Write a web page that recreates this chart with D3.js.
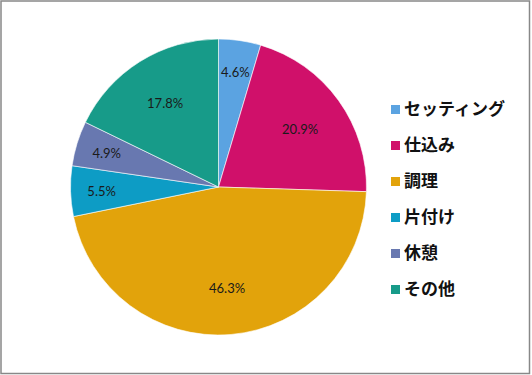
<!DOCTYPE html>
<html><head><meta charset="utf-8">
<script src="https://cdn.jsdelivr.net/npm/d3@7"></script>
<style>html,body{margin:0;padding:0;background:#fff;}svg{display:block;}</style>
</head><body>
<svg id="c" width="532" height="375"></svg>
<script>
const categories = ["セッティング", "仕込み", "調理", "片付け", "休憩", "その他"];
const values = [4.6, 20.9, 46.3, 5.5, 4.9, 17.8];
const colors = ["#5BA3E1", "#D0106A", "#E2A30B", "#0D9CC5", "#6878B0", "#179B89"];

const svg = d3.select("#c");
svg.append("rect").attr("x", 1).attr("y", 1).attr("width", 528.5).attr("height", 372.5)
  .attr("fill", "#fff").attr("stroke", "#888").attr("stroke-width", 1.5);

const cx = 218.5, cy = 187, R = 148;
const data = categories.map((c, i) => ({ cat: c, v: values[i], col: colors[i] }));
const pie = d3.pie().value(d => d.v).sort(null);
const arcs = pie(data);
const arc = d3.arc().innerRadius(0).outerRadius(R);
const g = svg.append("g").attr("transform", `translate(${cx},${cy})`);
g.selectAll("path").data(arcs).join("path")
  .attr("d", arc).attr("fill", d => d.data.col)
  .attr("stroke", "#fff").attr("stroke-width", 0.6);

const labelArcBig = d3.arc().innerRadius(R * 0.68).outerRadius(R * 0.68);
const labelArcSmall = d3.arc().innerRadius(R * 0.79).outerRadius(R * 0.79);
g.selectAll("text").data(arcs).join("text")
  .attr("transform", d => `translate(${(d.data.v < 10 ? labelArcSmall : labelArcBig).centroid(d)})`)
  .attr("text-anchor", "middle").attr("dy", "0.45em")
  .attr("font-family", "Lato, 'Open Sans', sans-serif").attr("font-size", 13)
  .attr("fill", "#1a1a1a")
  .text(d => d.data.v.toFixed(1) + "%");

const leg = svg.append("g").attr("transform", "translate(391,109)");
const items = leg.selectAll("g").data(data).join("g")
  .attr("transform", (d, i) => `translate(0,${i * 36})`);
items.append("rect").attr("x", 0).attr("y", -4).attr("width", 9).attr("height", 9)
  .attr("fill", d => d.col);
items.append("text").attr("x", 13).attr("y", 0).attr("dy", "0.36em")
  .attr("font-family", "'Noto Sans CJK JP', sans-serif").attr("font-weight", "bold")
  .attr("font-size", 17).attr("fill", "#111")
  .text(d => d.cat);
</script>
</body></html>
